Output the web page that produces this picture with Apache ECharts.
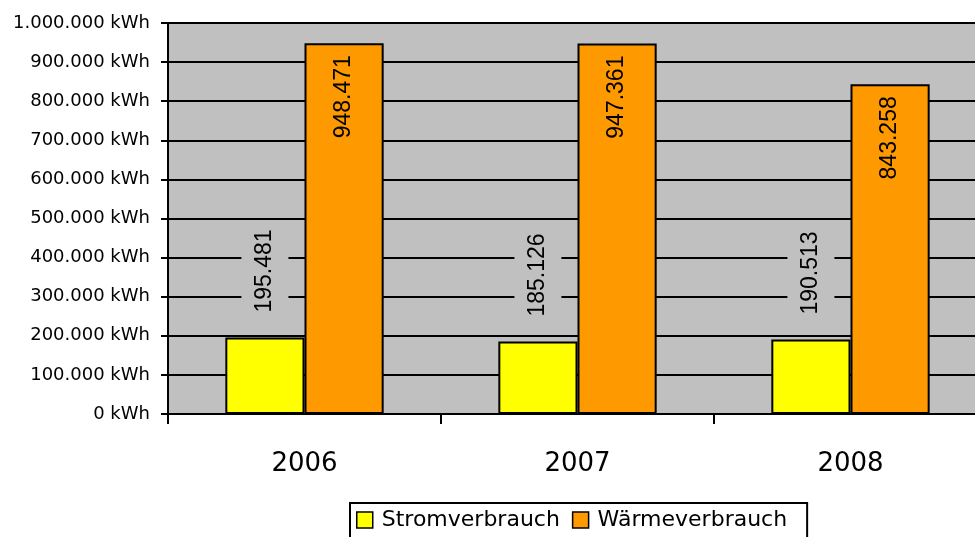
<!DOCTYPE html>
<html>
<head>
<meta charset="utf-8">
<script src="https://cdn.jsdelivr.net/npm/echarts@6/dist/echarts.min.js"></script>
<style>html,body{margin:0;padding:0;background:#fff;overflow:hidden;width:975px;height:537px}#c{width:987px;height:537px}</style>
</head>
<body>
<div id="c"></div>
<script>
var categories = ['2006', '2007', '2008'];
var strom = [195481, 185126, 190513];
var waerme = [948471, 947361, 843258];
var seriesNames = ['Stromverbrauch', 'Wärmeverbrauch'];

var FONT = 'DejaVu Sans';
var LFONT = 'Liberation Sans';
function fmt(v) {
  return String(v).replace(/\B(?=(\d{3})+(?!\d))/g, '.');
}
var chart = echarts.init(document.getElementById('c'));
chart.setOption({
  animation: false,
  textStyle: { fontFamily: FONT },
  grid: {
    left: 168, top: 23, right: 0, bottom: 123,
    show: true, backgroundColor: '#c0c0c0', borderColor: '#808080', borderWidth: 1.5
  },
  legend: {
    top: 503, left: 350,
    data: seriesNames,
    itemWidth: 16, itemHeight: 16, itemGap: 12,
    padding: [6, 20, 40, 6],
    borderColor: '#000', borderWidth: 2,
    textStyle: { fontFamily: FONT, fontSize: 22, color: '#000', padding: [0, 0, 0, 4] },
    itemStyle: { borderColor: '#000', borderWidth: 1.5 },
    icon: 'rect'
  },
  xAxis: {
    type: 'category',
    data: categories,
    axisLine: { lineStyle: { color: '#000', width: 2 } },
    axisTick: { show: true, length: 10, lineStyle: { color: '#000', width: 2 } },
    axisLabel: { fontFamily: FONT, fontSize: 26, color: '#000', margin: 37 },
    splitLine: { show: false }
  },
  yAxis: {
    type: 'value',
    min: 0, max: 1000000, interval: 100000,
    axisLine: { show: true, lineStyle: { color: '#000', width: 2 } },
    axisTick: { show: true, length: 7, lineStyle: { color: '#000', width: 2 } },
    axisLabel: {
      fontFamily: FONT, fontSize: 18, color: '#000', margin: 18,
      formatter: function (v) { return fmt(v) + ' kWh'; }
    },
    splitLine: { show: true, lineStyle: { color: '#000', width: 2 } }
  },
  series: [
    {
      name: seriesNames[0], type: 'bar', data: strom,
      barGap: '0%', barCategoryGap: '42%',
      itemStyle: { color: '#ffff00', borderColor: '#000', borderWidth: 2 },
      label: {
        show: true, position: 'top', rotate: 90, distance: 22,
        align: 'left', verticalAlign: 'middle',
        fontFamily: LFONT, fontSize: 23, color: '#000',
        backgroundColor: '#c0c0c0', padding: [12, 3, 12, 3],
        formatter: function (p) { return fmt(p.value); }
      }
    },
    {
      name: seriesNames[1], type: 'bar', data: waerme,
      barGap: '0%', barCategoryGap: '42%',
      itemStyle: { color: '#ff9900', borderColor: '#000', borderWidth: 2 },
      label: {
        show: true, position: 'insideTop', rotate: 90, distance: 12,
        align: 'right', verticalAlign: 'middle',
        fontFamily: LFONT, fontSize: 23, color: '#000',
        formatter: function (p) { return fmt(p.value); }
      }
    }
  ]
});
</script>
</body>
</html>
